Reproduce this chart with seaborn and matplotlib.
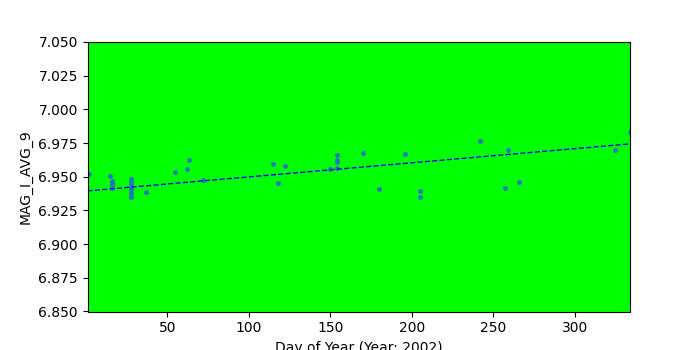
import numpy as np
import matplotlib
matplotlib.use("Agg")
from matplotlib import pyplot as plt
import seaborn as sns

# day of year and magnitude readings
days = [2, 15, 16, 16, 16, 16, 28, 28, 28, 28, 28, 28, 28, 28, 37,
        55, 62, 63, 72, 115, 118, 122, 150, 154, 154, 154, 154, 170,
        180, 196, 205, 205, 242, 257, 259, 266, 325, 334]
mag = [6.952, 6.9505, 6.947, 6.945, 6.944, 6.942, 6.948, 6.946, 6.944,
       6.942, 6.940, 6.938, 6.936, 6.935, 6.9387,
       6.9535, 6.9557, 6.9624, 6.9476, 6.9594, 6.9453, 6.9579, 6.9557,
       6.9661, 6.9624, 6.9609, 6.9565, 6.9676,
       6.9409, 6.9668, 6.9394, 6.935, 6.9764, 6.9416, 6.9698, 6.9461,
       6.9698, 6.9831]

# linear trend at both ends
trend_days = [1, 334]
trend_mag = [6.9395, 6.9744]

fig = plt.figure(figsize=(7, 3.5), dpi=100)
ax = fig.add_subplot(111)
ax.set_facecolor("#00ff00")

sns.scatterplot(x=days, y=mag, ax=ax, s=12, color="#1f77b4",
                linewidth=0, zorder=2)
sns.lineplot(x=trend_days, y=trend_mag, ax=ax, color="blue",
             linestyle="--", linewidth=1, zorder=3)

ax.set_xlim(1, max(days))
ax.set_ylim(6.85, 7.05)
ax.set_yticks(np.arange(6.85, 7.0501, 0.025))
ax.yaxis.set_major_formatter(matplotlib.ticker.FormatStrFormatter("%.3f"))
ax.set_xticks([50, 100, 150, 200, 250, 300])
ax.set_xlabel("Day of Year (Year: 2002)")
ax.set_ylabel("MAG_I_AVG_9")

plt.savefig("out.png", dpi=100)
